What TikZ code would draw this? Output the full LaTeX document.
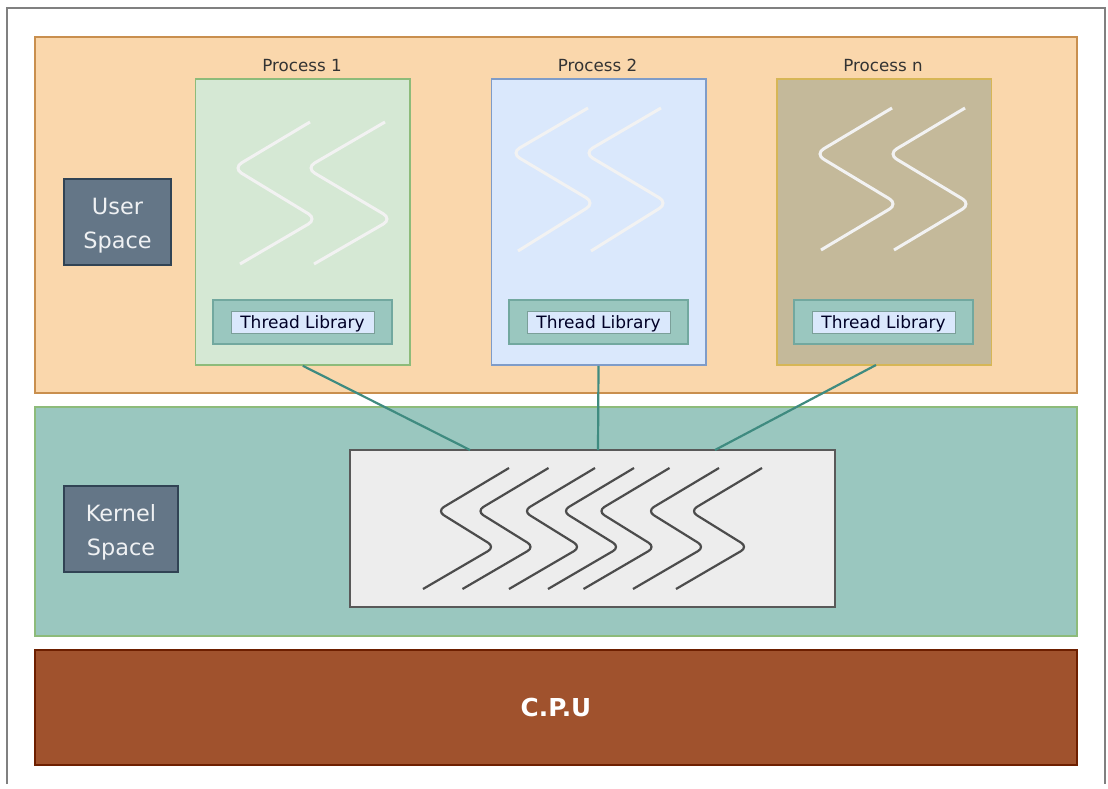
\documentclass[tikz,border=0pt]{standalone}
\usepackage{fontspec}
\setmainfont{DejaVu Sans}

\definecolor{userfill}{HTML}{FAD7AC}
\definecolor{userline}{HTML}{C98F4E}
\definecolor{kernelfill}{HTML}{9AC7BF}
\definecolor{greenline}{HTML}{8DBB7A}
\definecolor{cpufill}{HTML}{A0522D}
\definecolor{cpuline}{HTML}{6D1F00}
\definecolor{procgreen}{HTML}{D5E8D4}
\definecolor{procblue}{HTML}{DAE8FC}
\definecolor{blueline}{HTML}{7F9CC8}
\definecolor{proctan}{HTML}{C4B99A}
\definecolor{tanline}{HTML}{D6B656}
\definecolor{libline}{HTML}{72A89F}
\definecolor{slatefill}{HTML}{647687}
\definecolor{slateline}{HTML}{314354}
\definecolor{linkline}{HTML}{3F8B80}

\tikzset{
  region/.style={draw,rectangle,line width=1.5pt,inner sep=0pt},
  process/.style={draw,rectangle,line width=1.5pt,inner sep=0pt,minimum width=214.5pt,minimum height=286pt},
  libouter/.style={draw=libline,fill=kernelfill,rectangle,line width=1.5pt,minimum width=179pt,minimum height=44pt},
  libinner/.style={draw=kernelfill!80!black,fill=procblue,rectangle,line width=1pt,inner sep=0pt,minimum width=143pt,minimum height=22pt,text height=15pt,text depth=2.5pt,font=\fontsize{17}{20}\selectfont,text=black!85!blue},
  spacebox/.style={draw=slateline,fill=slatefill,rectangle,line width=1.2pt,inner sep=0pt,minimum height=86pt,align=center,text=white!90!slatefill,font=\fontsize{22.4}{34}\selectfont,text height=57pt},
  title/.style={inner sep=0pt,text height=12.5pt,text depth=3pt,text=black!80,font=\fontsize{16.7}{20}\selectfont},
  thwhite/.style={draw=white!95!black,line width=3pt,rounded corners=10pt},
  thdark/.style={draw=black!70,line width=2.2pt,rounded corners=8pt},
  link/.style={draw=linkline,line width=2.2pt}
}

\begin{document}
\begin{tikzpicture}[x=1pt,y=-1pt]

\useasboundingbox (0,0) rectangle (1108,788);

\draw [black!50,line width=2pt] (6.5,784) -- (6.5,8) -- (1105,8) -- (1105,784);

\node (user) at (556,215) [region,draw=userline,fill=userfill,minimum width=1042pt,minimum height=356pt] {};
\node (kernel) at (556,521.5) [region,draw=greenline,fill=kernelfill,minimum width=1042pt,minimum height=229pt] {};
\node (cpu) at (556,707.5) [region,draw=cpuline,fill=cpufill,minimum width=1042pt,minimum height=115pt,text=white,font=\fontsize{24.7}{30}\selectfont\bfseries] {C.P.U};

\node (userlbl) at (117.5,222) [spacebox,minimum width=107pt] {User\\Space};
\node (kernellbl) at (121,529) [spacebox,minimum width=114pt] {Kernel\\Space};

\node (p1) at (302.75,222) [process,draw=greenline,fill=procgreen] {};
\node (p2) at (598.5,222) [process,draw=blueline,fill=procblue] {};
\node (pn) at (884,222) [process,draw=tanline,fill=proctan] {};

\node (t1) at (302,67) [title] {Process 1};
\node (t2) at (597.5,67) [title] {Process 2};
\node (tn) at (883,67) [title] {Process n};

\node (o1) at (302.5,322) [libouter] {};
\node (o2) at (598.5,322) [libouter] {};
\node (on) at (883.5,322) [libouter] {};
\node (l1) at (302.5,322) [libinner] {Thread Library};
\node (l2) at (598.5,322) [libinner] {Thread Library};
\node (ln) at (883.5,322) [libinner] {Thread Library};

\draw [thwhite] (310,122) -- (233,168) -- (317,219) -- (240,264);
\draw [thwhite] (385,122) -- (306,168) -- (392,219) -- (314,264);

\draw [thwhite] (588,108) -- (511,153) -- (595,203) -- (518,251);
\draw [thwhite] (661,108) -- (584,153) -- (668,203) -- (591,251);

\draw [thwhite] (892,108) -- (815,154) -- (898,204) -- (821,250);
\draw [thwhite] (965,108) -- (888,154) -- (971,204) -- (894,250);

\node (threads) at (592.5,528.5) [draw=black!65,fill=black!7,rectangle,line width=1.5pt,inner sep=0pt,minimum width=485pt,minimum height=157pt] {};

\draw [thdark] (509,468) -- (437,511) -- (495,547) -- (423,589);
\draw [thdark] (548.5,468) -- (476.5,511) -- (534.5,547) -- (462.5,589);
\draw [thdark] (595,468) -- (523,511) -- (581,547) -- (509,589);
\draw [thdark] (634,468) -- (562,511) -- (620,547) -- (548,589);
\draw [thdark] (669.5,468) -- (597.5,511) -- (655.5,547) -- (583.5,589);
\draw [thdark] (719,468) -- (647,511) -- (705,547) -- (633,589);
\draw [thdark] (762,468) -- (690,511) -- (748,547) -- (676,589);

\coordinate (c1) at (470,450);
\coordinate (c2) at (598,450);
\coordinate (c3) at (715,450);
\coordinate (sn) at (876,365);

\draw [link] (p1.south) -- (c1);
\draw [link] (p2.south) -- (c2);
\draw [link] (sn) -- (c3);

\end{tikzpicture}
\end{document}
